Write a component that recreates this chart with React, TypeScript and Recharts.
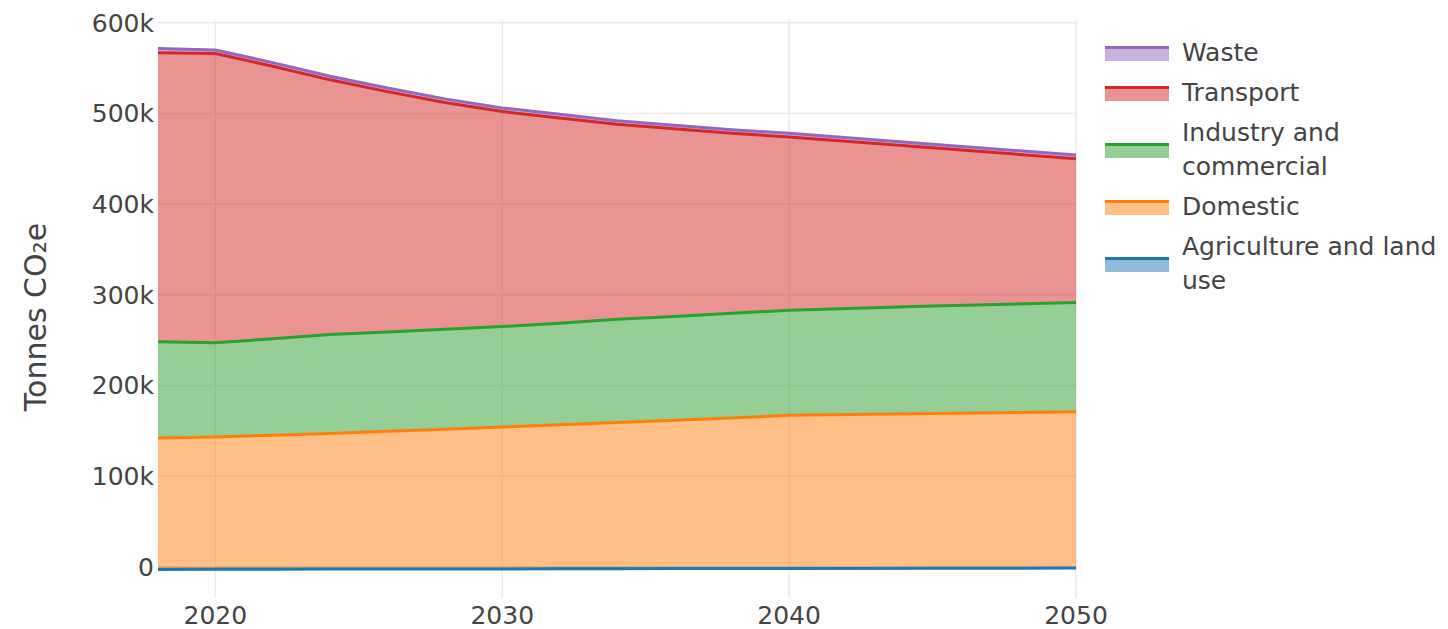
import { AreaChart, Area, XAxis, YAxis, CartesianGrid, Label } from "recharts";

const years = [2018, 2020, 2022, 2024, 2026, 2028, 2030, 2032, 2034, 2036, 2038, 2040, 2045, 2050];

// tonnes CO2e per sector
const agriculture = [-3000, -2800, -2700, -2600, -2500, -2500, -2400, -2300, -2200, -2100, -2000, -1900, -1700, -1500];
const domestic = [145000, 145800, 147700, 149600, 152000, 154000, 156400, 158800, 161200, 163600, 166000, 168900, 170700, 172500];
const industry = [106000, 104000, 106500, 109000, 109500, 110500, 111000, 112000, 114000, 114500, 115500, 116000, 118500, 120500];
const transport = [319000, 319000, 300500, 281000, 265000, 250000, 237000, 226500, 215000, 207000, 198500, 191000, 174500, 158500];
const waste = [4500, 4000, 4000, 4000, 4000, 4000, 4000, 4000, 4000, 4000, 4000, 4000, 4000, 4000];

const xTicks = [2020, 2030, 2040, 2050];
const yTicks = [0, 100000, 200000, 300000, 400000, 500000, 600000];

const series = [
  { key: "agriculture", name: "Agriculture and land use", color: "#1f77b4" },
  { key: "domestic", name: "Domestic", color: "#ff7f0e" },
  { key: "industry", name: "Industry and commercial", color: "#2ca02c" },
  { key: "transport", name: "Transport", color: "#d62728" },
  { key: "waste", name: "Waste", color: "#9467bd" },
];

const data = years.map((year, i) => ({
  year,
  agriculture: agriculture[i],
  domestic: domestic[i],
  industry: industry[i],
  transport: transport[i],
  waste: waste[i],
}));

const FONT = "'DejaVu Sans', Verdana, sans-serif";
const TEXT = "#444";

const hexToRgba = (hex: string, a: number) => {
  const n = parseInt(hex.slice(1), 16);
  return `rgba(${(n >> 16) & 255}, ${(n >> 8) & 255}, ${n & 255}, ${a})`;
};

const formatY = (v: number) => (v === 0 ? "0" : `${v / 1000}k`);

const Legend = () => (
  <div style={{ position: "absolute", left: 1105, top: 33, fontFamily: FONT, fontSize: 25, color: TEXT }}>
    {[...series].reverse().map((s) => (
      <div key={s.key} style={{ display: "flex", alignItems: "center", padding: "3px 0" }}>
        <div
          style={{
            width: 64,
            height: 12,
            background: hexToRgba(s.color, 0.5),
            borderTop: `3px solid ${s.color}`,
            flexShrink: 0,
          }}
        />
        <div style={{ marginLeft: 13, width: 265, lineHeight: "34px" }}>{s.name}</div>
      </div>
    ))}
  </div>
);

export default function App() {
  return (
    <div style={{ position: "absolute", left: 0, top: 0, width: 1448, height: 629, background: "#fff" }}>
      <AreaChart
        width={1448}
        height={629}
        data={data}
        margin={{ top: 20, right: 372, bottom: 0, left: 0 }}
      >
        <CartesianGrid stroke="#ebebeb" strokeWidth={1.5} syncWithTicks />
        <XAxis
          dataKey="year"
          type="number"
          domain={[2018, 2050]}
          ticks={xTicks}
          height={31}
          axisLine={false}
          tickLine={false}
          tickSize={0}
          tickMargin={8}
          tick={{ fill: TEXT, fontSize: 25, fontFamily: FONT }}
        />
        <YAxis
          type="number"
          domain={[-34500, 603000]}
          ticks={yTicks}
          width={158}
          axisLine={false}
          tickLine={false}
          tickSize={0}
          tickMargin={4}
          tickFormatter={formatY}
          tick={{ fill: TEXT, fontSize: 25, fontFamily: FONT }}
        >
          <Label
            content={() => (
              <text
                x={35}
                y={317}
                transform="rotate(-90 35 317)"
                textAnchor="middle"
                dominantBaseline="central"
                fill={TEXT}
                fontSize={30}
                fontFamily={FONT}
              >
                Tonnes CO₂e
              </text>
            )}
          />
        </YAxis>
        {/* fills first, then the lines on top (as plotly does) */}
        {series.map((s) => (
          <Area
            key={`fill-${s.key}`}
            dataKey={s.key}
            name={s.name}
            stackId="fill"
            type="linear"
            stroke="none"
            fill={s.color}
            fillOpacity={0.5}
            isAnimationActive={false}
            dot={false}
            activeDot={false}
          />
        ))}
        {series.map((s) => (
          <Area
            key={`line-${s.key}`}
            dataKey={s.key}
            name={s.name}
            stackId="line"
            type="linear"
            stroke={s.color}
            strokeWidth={3}
            fill="none"
            isAnimationActive={false}
            dot={false}
            activeDot={false}
          />
        ))}
      </AreaChart>
      <Legend />
    </div>
  );
}
